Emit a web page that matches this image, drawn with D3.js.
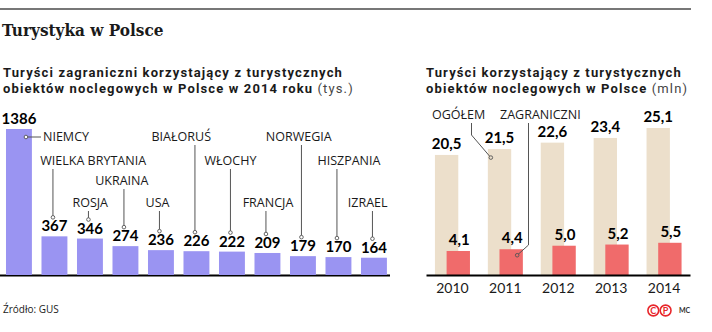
<!DOCTYPE html>
<html>
<head>
<meta charset="utf-8">
<script src="https://cdn.jsdelivr.net/npm/d3@7"></script>
<style>
  html, body { margin: 0; padding: 0; background: #fff; }
  svg { display: block; }
</style>
</head>
<body>
<script>
// ---- data ----
const countries = ["NIEMCY","WIELKA BRYTANIA","ROSJA","UKRAINA","USA","BIAŁORUŚ","WŁOCHY","FRANCJA","NORWEGIA","HISZPANIA","IZRAEL"];
const visitors = [1386,367,346,274,236,226,222,209,179,170,164];
const years = ["2010","2011","2012","2013","2014"];
const totalTourists = [20.5,21.5,22.6,23.4,25.1];
const foreignTourists = [4.1,4.4,5.0,5.2,5.5];
const seriesNames = ["OGÓŁEM","ZAGRANICZNI"];

// ---- layout (annotation placement) ----
const labelBaseline = [141,165,207,185,207,141,165,207,141,165,207];
const labelLeftShare = [0,0.12,0.45,0.54,0.58,0.73,0.5,0.46,0.54,0.31,0.62];

const W = 712, H = 332;
const svg = d3.select("body").append("svg").attr("width", W).attr("height", H);

const SANS = "'Open Sans', Lato, sans-serif";
const NUM = "Lato, 'Open Sans', sans-serif";
const SUB = "Roboto, Lato, sans-serif";
const DARK = "#1a1a1a";
const PURPLE = "#9a94f2", BEIGE = "#ecdfcb", RED = "#f06b6b", LEAD = "#555";

const plFmt = d3.formatLocale({decimal: ",", thousands: " ", grouping: [3], currency: ["", " zł"]}).format(".1f");

function measure(str, family, weight, size, stretch) {
  const t = svg.append("text").attr("font-family", family).attr("font-weight", weight).attr("font-size", size).text(str);
  if (stretch) t.attr("font-stretch", stretch);
  const w = t.node().getComputedTextLength();
  t.remove();
  return w;
}
function fitSize(str, family, weight, target, stretch) {
  return 100 * target / measure(str, family, weight, 100, stretch);
}

// top rule
svg.append("line").attr("x1", 0).attr("x2", 691).attr("y1", 9).attr("y2", 9)
  .attr("stroke", "#777").attr("stroke-width", 2);

// main title
const TITLE_FONT = "'DejaVu Serif Condensed', 'DejaVu Serif', serif";
svg.append("text").attr("x", 2).attr("y", 36)
  .attr("font-family", TITLE_FONT).attr("font-weight", 700).attr("font-stretch", "condensed")
  .attr("font-size", Math.min(17, fitSize("Turystyka w Polsce", TITLE_FONT, 700, 165, "condensed")))
  .attr("fill", DARK).text("Turystyka w Polsce");

const SUB_SIZE = 13;
const subLine1 = "Turyści zagraniczni korzystający z turystycznych";
const subLS = Math.max(0, (340 - measure(subLine1, SUB, 700, SUB_SIZE)) / subLine1.length);
function subtitle(x, lines, unit) {
  const t = svg.append("g");
  lines.forEach((ln, i) => {
    const tx = t.append("text").attr("x", x).attr("y", 77 + i * 16)
      .attr("font-family", SUB).attr("font-size", SUB_SIZE).attr("letter-spacing", subLS).attr("fill", DARK);
    tx.append("tspan").attr("font-weight", 700).text(ln);
    if (i === lines.length - 1) tx.append("tspan").attr("font-weight", 400).attr("fill", "#444").text(" " + unit);
  });
}
subtitle(3, [subLine1, "obiektów noclegowych w Polsce w 2014 roku"], "(tys.)");
subtitle(426, ["Turyści korzystający z turystycznych", "obiektów noclegowych w Polsce"], "(mln)");

const labSize = fitSize("WIELKA BRYTANIA", SANS, 400, 106);

// ---- left chart ----
const baseY = 275;
const xL = d3.scaleBand().domain(countries).range([1.2, 391.7]).paddingInner(0.27).paddingOuter(0.135);
const yL = d3.scaleLinear().domain([0, 1386]).range([baseY, 129]);

const gL = svg.append("g");
gL.append("line").attr("x1", 0).attr("x2", 390).attr("y1", baseY + 0.5).attr("y2", baseY + 0.5)
  .attr("stroke", "#000").attr("stroke-width", 2);

gL.selectAll("rect").data(visitors).join("rect")
  .attr("x", (d, i) => xL(countries[i]))
  .attr("y", d => yL(d))
  .attr("width", xL.bandwidth())
  .attr("height", d => baseY - yL(d))
  .attr("fill", PURPLE);

gL.selectAll("text.val").data(visitors).join("text").attr("class", "val")
  .attr("x", (d, i) => xL(countries[i]) + xL.bandwidth() / 2)
  .attr("y", d => yL(d) - 5)
  .attr("text-anchor", "middle")
  .attr("font-family", NUM).attr("font-weight", 700).attr("font-size", 15).attr("fill", "#000")
  .text(d => d);

countries.forEach((c, i) => {
  const cx = xL(c) + xL.bandwidth() / 2;
  const top = yL(visitors[i]);
  const lab = gL.append("text").attr("y", labelBaseline[i])
    .attr("font-family", SANS).attr("font-size", labSize).attr("fill", DARK).text(c);
  if (i === 0) {
    const dx = cx + 7, dy = top + 8;
    lab.attr("x", 43);
    gL.append("line").attr("x1", dx).attr("x2", 41).attr("y1", dy).attr("y2", dy).attr("stroke", LEAD).attr("stroke-width", 1);
    gL.append("circle").attr("cx", dx).attr("cy", dy).attr("r", 1.8).attr("fill", "#fff").attr("stroke", LEAD).attr("stroke-width", 0.9);
  } else {
    const lx = cx - 1.5;
    const w = lab.node().getComputedTextLength();
    lab.attr("x", lx - w * labelLeftShare[i]);
    const y1 = labelBaseline[i] + 4, y2 = top - 19;
    gL.append("line").attr("x1", lx).attr("x2", lx).attr("y1", y1).attr("y2", y2).attr("stroke", LEAD).attr("stroke-width", 1);
    gL.append("circle").attr("cx", lx).attr("cy", y2).attr("r", 1.8).attr("fill", "#fff").attr("stroke", LEAD).attr("stroke-width", 0.9);
  }
});

// ---- right chart ----
const xR = d3.scaleBand().domain(years).range([426, 690.5]).paddingInner(0.338).paddingOuter(0.169);
const yR = d3.scaleLinear().domain([0, 25.1]).range([baseY, 128]);
const bw = xR.bandwidth() * 0.667, off = xR.bandwidth() * 0.333;

const gR = svg.append("g");
gR.selectAll("rect.tot").data(totalTourists).join("rect").attr("class", "tot")
  .attr("x", (d, i) => xR(years[i])).attr("y", d => yR(d))
  .attr("width", bw).attr("height", d => baseY - yR(d)).attr("fill", BEIGE);
gR.selectAll("rect.for").data(foreignTourists).join("rect").attr("class", "for")
  .attr("x", (d, i) => xR(years[i]) + off).attr("y", d => yR(d))
  .attr("width", bw).attr("height", d => baseY - yR(d)).attr("fill", RED);

gR.append("line").attr("x1", 426.5).attr("x2", 690.5).attr("y1", baseY + 0.5).attr("y2", baseY + 0.5)
  .attr("stroke", "#000").attr("stroke-width", 2);

gR.selectAll("text.tv").data(totalTourists).join("text").attr("class", "tv")
  .attr("x", (d, i) => xR(years[i]) + bw / 2).attr("y", d => yR(d) - 6)
  .attr("text-anchor", "middle").attr("font-family", NUM).attr("font-weight", 700)
  .attr("font-size", 15).attr("fill", "#000").text(d => plFmt(d));
gR.selectAll("text.fv").data(foreignTourists).join("text").attr("class", "fv")
  .attr("x", (d, i) => xR(years[i]) + off + bw / 2 + 1).attr("y", d => yR(d) - 6)
  .attr("text-anchor", "middle").attr("font-family", NUM).attr("font-weight", 700)
  .attr("font-size", 15).attr("fill", "#000").text(d => plFmt(d));

const xAxis = d3.axisBottom(xR).tickSize(0).tickPadding(7);
const ax = gR.append("g").attr("transform", `translate(0,${baseY + 1})`).call(xAxis);
ax.select(".domain").remove();
ax.selectAll("text").attr("font-family", NUM).attr("font-size", 14).attr("fill", DARK);

// series annotations
const legY = 119;
gR.append("text").attr("x", 432).attr("y", legY).attr("font-family", SANS).attr("font-size", labSize).attr("fill", DARK).text(seriesNames[0]);
gR.append("text").attr("x", 500).attr("y", legY).attr("font-family", SANS).attr("font-size", labSize).attr("fill", DARK).text(seriesNames[1]);

const d1x = xR("2011") + 3, d1y = yR(totalTourists[1]) + 8.5;
gR.append("path").attr("d", `M471.5,${legY + 4}V135L${d1x},${d1y}`).attr("fill", "none").attr("stroke", LEAD).attr("stroke-width", 1);
gR.append("circle").attr("cx", d1x).attr("cy", d1y).attr("r", 1.8).attr("fill", BEIGE).attr("stroke", LEAD).attr("stroke-width", 0.9);

const d2x = xR("2011") + off + bw / 2 + 6, d2y = yR(foreignTourists[1]) + 6;
gR.append("path").attr("d", `M528.5,${legY + 4}V245L${d2x},${d2y}`).attr("fill", "none").attr("stroke", LEAD).attr("stroke-width", 1);
gR.append("circle").attr("cx", d2x).attr("cy", d2y).attr("r", 1.8).attr("fill", RED).attr("stroke", LEAD).attr("stroke-width", 0.9);

// source
svg.append("text").attr("x", 3).attr("y", 313).attr("font-family", SANS).attr("font-size", 10).attr("fill", DARK)
  .text("Źródło:  GUS");

// logo
const logo = svg.append("g");
[["C", 653.3], ["P", 665.6]].forEach(([ch, cx]) => {
  logo.append("circle").attr("cx", cx).attr("cy", 310.5).attr("r", 5.4).attr("fill", "none").attr("stroke", "#e8262b").attr("stroke-width", 1.6);
  logo.append("text").attr("x", cx).attr("y", 313.8).attr("text-anchor", "middle").attr("font-family", NUM)
    .attr("font-weight", 700).attr("font-size", 9).attr("fill", "#e8262b").text(ch);
});
logo.append("text").attr("x", 679).attr("y", 313).attr("font-family", NUM).attr("font-weight", 700)
  .attr("font-size", 7).attr("fill", "#333").text("MC");
</script>
</body>
</html>
